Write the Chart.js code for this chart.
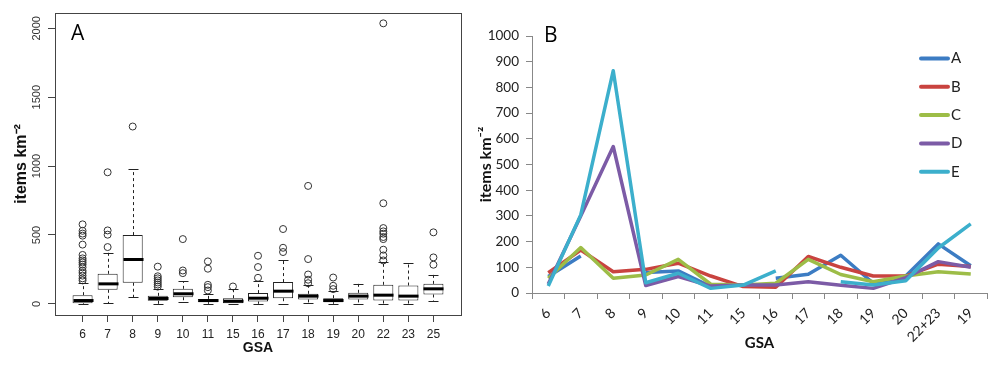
<!DOCTYPE html>
<html>
<head>
<meta charset="utf-8">
<script src="https://cdn.jsdelivr.net/npm/chart.js@4.4.1/dist/chart.umd.min.js"></script>
<style>
  body { margin: 0; background: #fff; width: 998px; height: 365px; overflow: hidden; position: relative; }
  canvas { position: absolute; top: 0; }
  #boxA { left: 0; }
  #lineB { left: 478px; }
</style>
</head>
<body>
<canvas id="boxA" width="478" height="365"></canvas>
<canvas id="lineB" width="520" height="365"></canvas>
<script>
// ---- panel A: boxplot stats per GSA ----
const gsaA = ['6', '7', '8', '9', '10', '11', '15', '16', '17', '18', '19', '20', '22', '23', '25'];
const lowA = [0, 5, 48, 0, 10, 0, 0, 0, 0, 5, 0, 0, 0, 0, 17];
const q1A = [5, 102, 153, 22, 48, 12, 0, 17, 41, 32, 12, 32, 24, 24, 68];
const medA = [24, 145, 322, 39, 73, 24, 19, 41, 92, 56, 24, 56, 63, 56, 109];
const q3A = [63, 218, 499, 58, 109, 36, 41, 78, 158, 73, 41, 80, 138, 133, 145];
const highA = [150, 371, 977, 109, 165, 73, 109, 165, 320, 138, 90, 145, 303, 298, 211];
const outA = [
    [577, 530, 510, 495, 430, 355, 330, 315, 300, 285, 265, 240, 225, 205, 185, 170],
    [955, 533, 502, 412],
    [1287],
    [270, 200, 185, 170, 155, 140, 125],
    [470, 242, 223],
    [308, 255, 138, 121, 97],
    [126],
    [349, 267, 189],
    [543, 407, 376],
    [856, 325, 213, 175, 150],
    [191, 131, 107],
    [],
    [2036, 730, 550, 526, 509, 485, 470, 393, 351, 315],
    [],
    [519, 337, 284]
];
const ticksA = [0, 500, 1000, 1500, 2000];

// ---- panel B: mean items km-2 per GSA and category ----
const gsaB = ['6', '7', '8', '9', '10', '11', '15', '16', '17', '18', '19', '20', '22+23', '19'];
const serA = [64, 144, null, 80, 86, 25, null, 57, 73, 147, 38, 66, 191, 106];
const serB = [79, 167, 83, 92, 116, 66, 25, 22, 142, 100, 66, 66, 112, 103];
const serC = [57, 177, 57, 70, 131, 34, 31, 38, 131, 72, 44, 66, 83, 74];
const serD = [35, 300, 570, 29, 64, 27, 31, 31, 44, 30, 18, 60, 122, 100];
const serE = [27, 304, 865, 40, 77, 18, 31, 86, null, 44, 31, 48, 175, 269];

const rFont = '"Liberation Sans", Arial, sans-serif';
const xlFont = 'Lato, "Open Sans", sans-serif';

const boxParts = {
    id: 'boxParts',
    afterDatasetsDraw(chart) {
        const {ctx, chartArea, scales: {x, y}} = chart;
        const bars = chart.getDatasetMeta(0).data;
        ctx.save();
        ctx.strokeStyle = '#222';
        gsaA.forEach((g, i) => {
            const cx = Math.round(x.getPixelForValue(i + 1)) + 0.5;
            const hw = bars[i].width / 2;
            const cap = hw / 2;
            ctx.lineWidth = 1;
            ctx.setLineDash([3, 3]);
            ctx.beginPath();
            ctx.moveTo(cx, y.getPixelForValue(q3A[i]));
            ctx.lineTo(cx, y.getPixelForValue(highA[i]));
            ctx.moveTo(cx, y.getPixelForValue(q1A[i]));
            ctx.lineTo(cx, y.getPixelForValue(lowA[i]));
            ctx.stroke();
            ctx.setLineDash([]);
            ctx.beginPath();
            [lowA[i], highA[i]].forEach(v => {
                const py = Math.round(y.getPixelForValue(v)) + 0.5;
                ctx.moveTo(cx - cap, py);
                ctx.lineTo(cx + cap, py);
            });
            ctx.stroke();
            ctx.lineWidth = 3;
            ctx.strokeStyle = '#000';
            ctx.beginPath();
            const my = y.getPixelForValue(medA[i]);
            ctx.moveTo(cx - hw, my);
            ctx.lineTo(cx + hw, my);
            ctx.stroke();
            ctx.strokeStyle = '#222';
        });

        ctx.lineWidth = 1;
        ctx.strokeStyle = '#444';
        ctx.strokeRect(Math.round(chartArea.left) + 0.5, Math.round(chartArea.top) + 0.5,
            Math.round(chartArea.width), Math.round(chartArea.height));

        // R style y labels, turned 90 degrees
        ctx.fillStyle = '#333';
        ctx.font = '11px ' + rFont;
        ctx.textAlign = 'center';
        ctx.textBaseline = 'middle';
        y.ticks.forEach(t => {
            ctx.save();
            ctx.translate(37, y.getPixelForValue(t.value));
            ctx.rotate(-Math.PI / 2);
            ctx.fillText(String(t.value), 0, 0);
            ctx.restore();
        });

        ctx.fillStyle = '#000';
        ctx.font = '21px "Open Sans", sans-serif';
        ctx.textAlign = 'left';
        ctx.fillText('A', 71, 34);
        ctx.restore();
    }
};

const legendB = {
    id: 'legendB',
    afterDraw(chart) {
        const {ctx} = chart;
        ctx.save();
        chart.data.datasets.forEach((ds, i) => {
            const ly = 58.5 + i * 28.3;
            ctx.strokeStyle = ds.borderColor;
            ctx.lineWidth = 4;
            ctx.lineCap = 'round';
            ctx.beginPath();
            ctx.moveTo(443, ly);
            ctx.lineTo(470, ly);
            ctx.stroke();
            ctx.fillStyle = '#222';
            ctx.font = '15px ' + xlFont;
            ctx.textBaseline = 'middle';
            ctx.fillText(ds.label, 473, ly);
        });
        ctx.fillStyle = '#000';
        ctx.font = '21px "Open Sans", sans-serif';
        ctx.textBaseline = 'middle';
        ctx.fillText('B', 66, 36);
        ctx.restore();
    }
};

const boxData = gsaA.map((g, i) => ({x: i + 1, y: [q1A[i], q3A[i]]}));
const outData = [];
outA.forEach((list, i) => list.forEach(v => outData.push({x: i + 1, y: v})));

new Chart(document.getElementById('boxA'), {
    type: 'bar',
    data: {
        datasets: [{
            type: 'bar',
            data: boxData,
            backgroundColor: '#fff',
            borderColor: '#222',
            borderWidth: 1,
            borderSkipped: false,
            barPercentage: 1,
            categoryPercentage: 0.8
        }, {
            type: 'scatter',
            data: outData,
            pointStyle: 'circle',
            pointRadius: 3.5,
            borderWidth: 1,
            borderColor: '#333',
            backgroundColor: 'rgba(0,0,0,0)'
        }]
    },
    options: {
        responsive: false,
        animation: false,
        layout: {padding: {top: 13, right: 17, left: 0, bottom: 0}},
        plugins: {legend: {display: false}, tooltip: {enabled: false}},
        scales: {
            x: {
                type: 'linear',
                offset: false,
                min: -0.1,
                max: 16.1,
                afterBuildTicks: s => { s.ticks = gsaA.map((g, i) => ({value: i + 1})); },
                afterFit: s => { s.height = 50; },
                ticks: {
                    callback: v => gsaA[v - 1],
                    autoSkip: false,
                    maxRotation: 0,
                    color: '#222',
                    font: {family: rFont, size: 12},
                    padding: 5
                },
                grid: {offset: false, drawOnChartArea: false, tickLength: 7, color: '#444'},
                border: {display: false},
                title: {
                    display: true, text: 'GSA', color: '#111',
                    font: {family: rFont, size: 14, weight: 'bold'},
                    padding: {top: 0, bottom: 8.6}
                }
            },
            y: {
                min: -81,
                max: 2111,
                afterBuildTicks: s => { s.ticks = ticksA.map(v => ({value: v})); },
                afterFit: s => { s.width = 55; },
                ticks: {display: false},
                grid: {drawOnChartArea: false, tickLength: 7, color: '#444'},
                border: {display: false},
                title: {
                    display: true, text: 'items km\u207B\u00B2', color: '#111',
                    font: {family: rFont, size: 16, weight: 'bold'},
                    padding: {top: 12, bottom: 0}
                }
            }
        }
    },
    plugins: [boxParts]
});

const lineSet = (label, data, color, order) => ({
    label: label,
    data: data,
    borderColor: color,
    backgroundColor: color,
    borderWidth: 3.5,
    pointRadius: 0,
    tension: 0,
    borderJoinStyle: 'round',
    order: order
});

new Chart(document.getElementById('lineB'), {
    type: 'line',
    data: {
        labels: gsaB,
        datasets: [
            lineSet('A', serA, '#3c7cc3', 5),
            lineSet('B', serB, '#c9433f', 4),
            lineSet('C', serC, '#9dbd47', 3),
            lineSet('D', serD, '#7c5ba6', 2),
            lineSet('E', serE, '#3cafcc', 1)
        ]
    },
    options: {
        responsive: false,
        animation: false,
        layout: {padding: {top: 36, right: 11, left: 0, bottom: 0}},
        plugins: {legend: {display: false}, tooltip: {enabled: false}},
        scales: {
            x: {
                offset: true,
                afterFit: s => { s.height = 72; },
                ticks: {
                    autoSkip: false, minRotation: 45, maxRotation: 45,
                    color: '#222', font: {family: xlFont, size: 14}, padding: 6
                },
                grid: {offset: true, drawOnChartArea: false, tickLength: 6, color: '#888'},
                border: {color: '#888'},
                title: {
                    display: true, text: 'GSA', color: '#111',
                    font: {family: xlFont, size: 15, weight: 'bold'},
                    padding: {top: 0, bottom: 13}
                }
            },
            y: {
                min: 0,
                max: 1000,
                afterFit: s => { s.width = 54; },
                ticks: {
                    stepSize: 100, color: '#222', font: {family: xlFont, size: 13.5}, padding: 7,
                    callback: v => String(v)
                },
                grid: {drawOnChartArea: false, tickLength: 6, color: '#888'},
                border: {color: '#888'},
                title: {
                    display: true, text: 'items km\u207B\u00B2', color: '#111',
                    font: {family: xlFont, size: 16, weight: 'bold', lineHeight: 1},
                    padding: {top: 0, bottom: 0}
                }
            }
        }
    },
    plugins: [legendB]
});
</script>
</body>
</html>
